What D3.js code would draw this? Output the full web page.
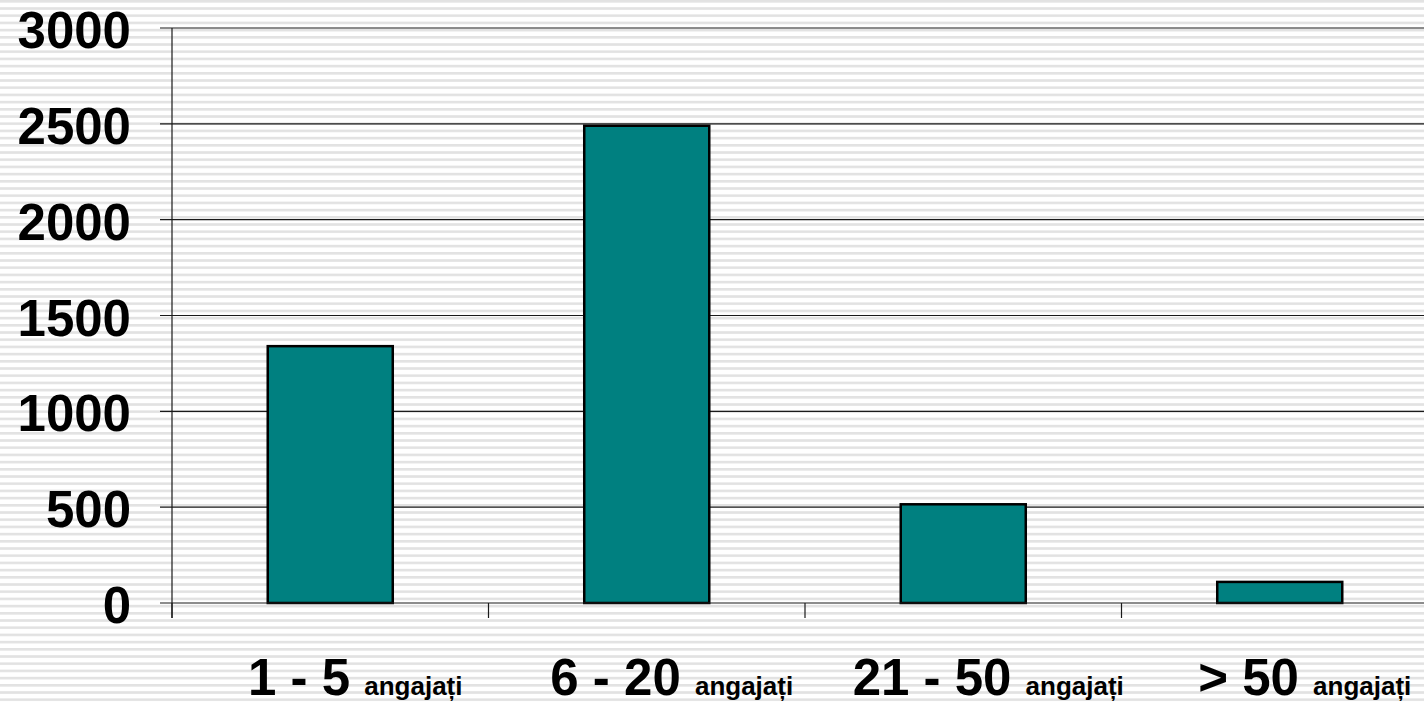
<!DOCTYPE html>
<html>
<head>
<meta charset="utf-8">
<script src="https://cdn.jsdelivr.net/npm/d3@7"></script>
<style>
  html, body { margin: 0; padding: 0; background: #fff; }
  svg { display: block; }
</style>
</head>
<body>
<svg width="1424" height="703"></svg>
<script>
// données
const categories = ["1 - 5", "6 - 20", "21 - 50", "> 50"];
const suffixe = "angajați";
const valeurs = [1340, 2490, 515, 110];
const ticksY = [0, 500, 1000, 1500, 2000, 2500, 3000];

const svg = d3.select("svg");
const width = 1424, height = 703;
const gauche = 172, droite = 1438, haut = 28, bas = 603;

// fond rayé
const defs = svg.append("defs");
const pat = defs.append("pattern")
    .attr("id", "rayures")
    .attr("patternUnits", "userSpaceOnUse")
    .attr("width", 8).attr("height", 7.2);
pat.append("rect").attr("width", 8).attr("height", 7.2).attr("fill", "#ffffff");
pat.append("rect").attr("y", 0).attr("width", 8).attr("height", 2.6).attr("fill", "#e2e2e2");
svg.append("rect").attr("width", width).attr("height", height).attr("fill", "url(#rayures)");

const x = d3.scaleBand().domain(categories).range([gauche, droite]).paddingInner(0.605).paddingOuter(0.3025);
const xBord = d3.scaleLinear().domain([0, categories.length]).range([gauche, droite]);
const y = d3.scaleLinear().domain([0, 3000]).range([bas, haut]);

// lignes de grille + graduations gauche
const grille = svg.append("g");
grille.selectAll("line")
    .data(ticksY.filter(d => d > 0))
    .enter().append("line")
    .attr("x1", gauche - 12).attr("x2", width)
    .attr("y1", d => y(d)).attr("y2", d => y(d))
    .attr("stroke", "#1a1a1a").attr("stroke-width", 1.2);

// axe Y
svg.append("line")
    .attr("x1", gauche).attr("x2", gauche)
    .attr("y1", haut).attr("y2", bas + 15)
    .attr("stroke", "#1a1a1a").attr("stroke-width", 1.2);

svg.append("g").selectAll("text")
    .data(ticksY)
    .enter().append("text")
    .attr("x", 131)
    .attr("y", d => y(d) + 20)
    .attr("text-anchor", "end")
    .attr("font-family", "Liberation Sans, Arial, sans-serif")
    .attr("font-weight", "bold")
    .attr("font-size", 51)
    .attr("fill", "#000")
    .text(d => d);

// barres
svg.append("g").selectAll("rect")
    .data(valeurs)
    .enter().append("rect")
    .attr("x", (d, i) => x(categories[i]))
    .attr("y", d => y(d))
    .attr("width", x.bandwidth())
    .attr("height", d => bas - y(d))
    .attr("fill", "#008080")
    .attr("stroke", "#000")
    .attr("stroke-width", 2.5);

// axe X
svg.append("line")
    .attr("x1", gauche - 12).attr("x2", width)
    .attr("y1", bas).attr("y2", bas)
    .attr("stroke", "#1a1a1a").attr("stroke-width", 1.2);

svg.append("g").selectAll("line")
    .data(d3.range(categories.length + 1))
    .enter().append("line")
    .attr("x1", d => xBord(d)).attr("x2", d => xBord(d))
    .attr("y1", bas).attr("y2", bas + 15)
    .attr("stroke", "#1a1a1a").attr("stroke-width", 1.2);

// étiquettes catégories
const etiquettes = svg.append("g").selectAll("text")
    .data(categories)
    .enter().append("text")
    .attr("x", d => x(d) + x.bandwidth() / 2 + 25)
    .attr("y", 695)
    .attr("text-anchor", "middle")
    .attr("font-family", "Liberation Sans, Arial, sans-serif")
    .attr("font-weight", "bold")
    .attr("fill", "#000");
etiquettes.append("tspan").attr("font-size", 51).text(d => d + " ");
etiquettes.append("tspan").attr("font-size", 26).text(suffixe);
</script>
</body>
</html>
